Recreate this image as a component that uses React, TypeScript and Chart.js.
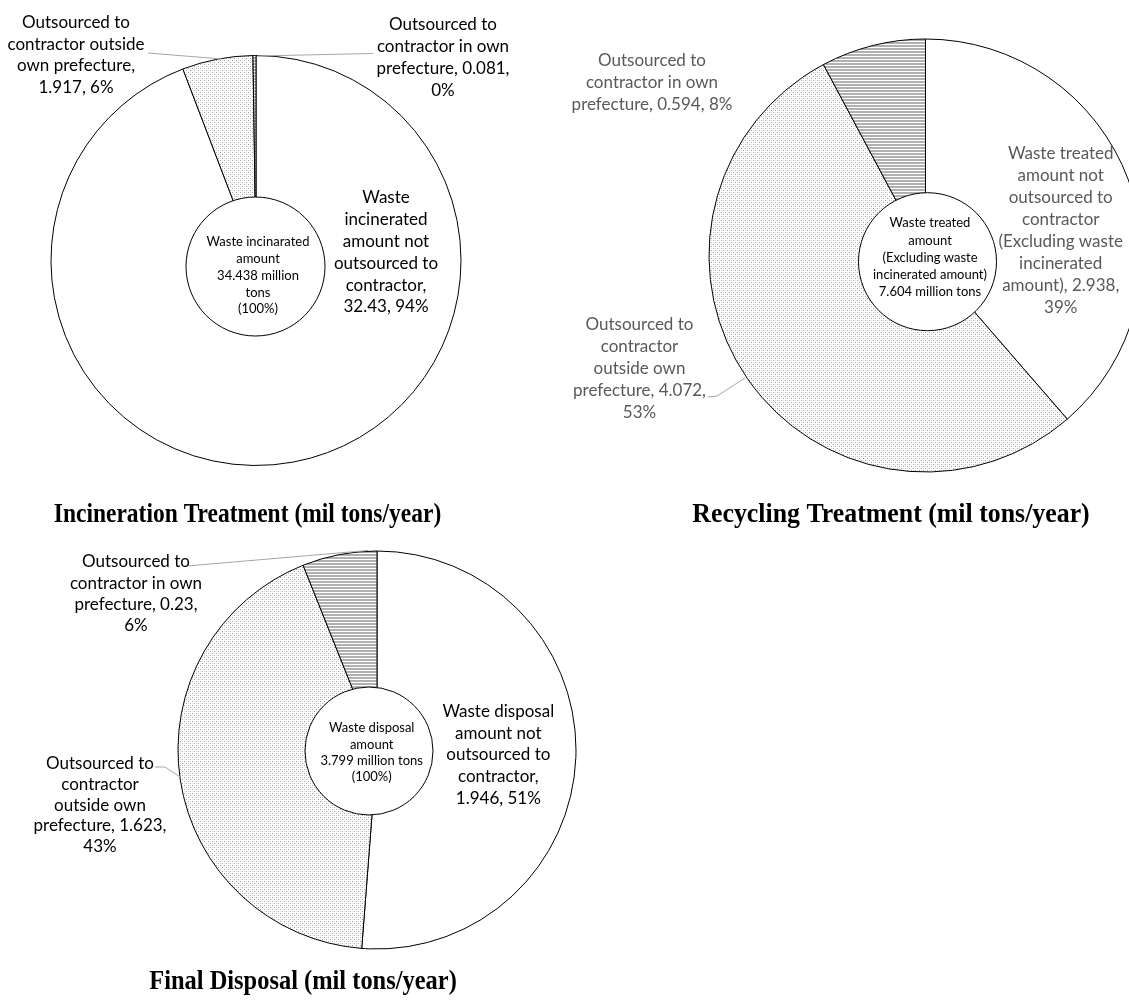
import React, { useEffect, useRef } from "react";
import { Chart, registerables } from "chart.js";
Chart.register(...registerables);

// ---------- DATA ----------
const categories = [
  "Not outsourced to contractor",
  "Outsourced to contractor outside own prefecture",
  "Outsourced to contractor in own prefecture",
];
const incinerationValues = [32.43, 1.917, 0.081];
const incinerationPercents = [94, 6, 0];
const recyclingValues = [2.938, 4.072, 0.594];
const recyclingPercents = [39, 53, 8];
const disposalValues = [1.946, 1.623, 0.23];
const disposalPercents = [51, 43, 6];

const incinerationLabels = [
  ["Waste", "incinerated", "amount not", "outsourced to", "contractor,", "{v}, {p}%"],
  ["Outsourced to", "contractor outside", "own prefecture,", "{v}, {p}%"],
  ["Outsourced to", "contractor in own", "prefecture, {v},", "{p}%"],
];
const incinerationCenter = ["Waste incinarated", "amount", "34.438 million", "tons", "(100%)"];
const incinerationTitle = "Incineration Treatment (mil tons/year)";

const recyclingLabels = [
  ["Waste treated", "amount not", "outsourced to", "contractor", "(Excluding waste", "incinerated", "amount), {v},", "{p}%"],
  ["Outsourced to", "contractor", "outside own", "prefecture, {v},", "{p}%"],
  ["Outsourced to", "contractor in own", "prefecture, {v}, {p}%"],
];
const recyclingCenter = ["Waste treated", "amount", "(Excluding waste", "incinerated amount)", "7.604 million tons"];
const recyclingTitle = "Recycling Treatment (mil tons/year)";

const disposalLabels = [
  ["Waste disposal", "amount not", "outsourced to", "contractor,", "{v}, {p}%"],
  ["Outsourced to", "contractor", "outside own", "prefecture, {v},", "{p}%"],
  ["Outsourced to", "contractor in own", "prefecture, {v},", "{p}%"],
];
const disposalCenter = ["Waste disposal", "amount", "3.799 million tons", "(100%)"];
const disposalTitle = "Final Disposal (mil tons/year)";

// ---------- LAYOUT (page coordinates) ----------
type Pt = [number, number];
interface Layout {
  canvas: { x: number; y: number; w: number; h: number };
  pie: { cx: number; cy: number; r: number };
  circle: { cx: number; cy: number; r: number };
  labels: { x: number; y: number; lh: number }[];
  center: { x: number; y: number; lh: number };
  leaders: (Pt[] | null)[];
  title: { x: number; y: number; sx: number };
  labelColor: string;
}

const layout1: Layout = {
  canvas: { x: 0, y: 0, w: 565, h: 545 },
  pie: { cx: 256, cy: 260.5, r: 205 },
  circle: { cx: 255.5, cy: 266.5, r: 69.5 },
  labels: [
    { x: 386, y: 197.5, lh: 21.9 },
    { x: 76, y: 22.7, lh: 21.5 },
    { x: 443, y: 25, lh: 22 },
  ],
  center: { x: 258, y: 241.7, lh: 16.9 },
  leaders: [null, [[148, 53], [222, 59]], [[257, 56], [373, 53.5]]],
  title: { x: 247.5, y: 515, sx: 1.0 },
  labelColor: "#000000",
};

const layout2: Layout = {
  canvas: { x: 565, y: 0, w: 600, h: 545 },
  pie: { cx: 925.5, cy: 255.5, r: 216.5 },
  circle: { cx: 927.5, cy: 261.7, r: 69 },
  labels: [
    { x: 1060.7, y: 154, lh: 21.9 },
    { x: 639.5, y: 325, lh: 21.9 },
    { x: 652, y: 61, lh: 21.7 },
  ],
  center: { x: 930, y: 223.3, lh: 17.1 },
  leaders: [null, [[708, 397], [717, 396], [745, 378]], null],
  title: { x: 891, y: 515, sx: 1.1 },
  labelColor: "#595959",
};

const layout3: Layout = {
  canvas: { x: 0, y: 545, w: 620, h: 458 },
  pie: { cx: 377, cy: 750, r: 199 },
  circle: { cx: 369, cy: 751, r: 64 },
  labels: [
    { x: 498.3, y: 711.7, lh: 21.6 },
    { x: 100, y: 763.3, lh: 20.9 },
    { x: 136, y: 561.7, lh: 21.4 },
  ],
  center: { x: 371.7, y: 728.3, lh: 16.1 },
  leaders: [null, [[155, 767], [165, 767], [180, 777]], [[187, 566], [350, 552], [368, 550.5]]],
  title: { x: 303, y: 982, sx: 1.04 },
  labelColor: "#000000",
};

const LABEL_FONT = "17px Lato";
const CENTER_FONT = "13px Lato";
const TITLE_FONT = "bold 23.5px 'Liberation Serif'";
const TITLE_SCALE_Y = 1.18;

function makeStipple(ctx: CanvasRenderingContext2D) {
  const c = document.createElement("canvas");
  c.width = 4;
  c.height = 4;
  const g = c.getContext("2d")!;
  g.fillStyle = "#ffffff";
  g.fillRect(0, 0, 4, 4);
  g.fillStyle = "#a4a4a4";
  g.fillRect(0, 0, 1, 1);
  g.fillRect(2, 2, 1, 1);
  g.fillStyle = "#e4e4e4";
  g.fillRect(2, 0, 1, 1);
  g.fillRect(0, 2, 1, 1);
  return ctx.createPattern(c, "repeat")!;
}

function makeStripes(ctx: CanvasRenderingContext2D) {
  const c = document.createElement("canvas");
  c.width = 4;
  c.height = 3;
  const g = c.getContext("2d")!;
  g.fillStyle = "#ffffff";
  g.fillRect(0, 0, 4, 3);
  g.fillStyle = "#b0b0b0";
  g.fillRect(0, 0, 4, 2);
  return ctx.createPattern(c, "repeat")!;
}

function fill(t: string, v: number, p: number) {
  return t.replace("{v}", String(v)).replace("{p}", String(p));
}

function PieChart(props: {
  values: number[];
  percents: number[];
  labels: string[][];
  center: string[];
  title: string;
  lay: Layout;
}) {
  const ref = useRef<HTMLCanvasElement | null>(null);
  const { values, percents, labels, center, title, lay } = props;
  useEffect(() => {
    const canvas = ref.current!;
    const ctx = canvas.getContext("2d")!;
    const ox = lay.canvas.x;
    const oy = lay.canvas.y;
    const side = lay.pie.r * 2 + 1;
    const padLeft = lay.pie.cx - lay.pie.r - 0.5 - ox;
    const padTop = lay.pie.cy - lay.pie.r - 0.5 - oy;
    const padding = {
      left: padLeft,
      top: padTop,
      right: lay.canvas.w - padLeft - side,
      bottom: lay.canvas.h - padTop - side,
    };
    const overlay = {
      id: "overlay" + title.length,
      afterDatasetsDraw(chart: any) {
        const c: CanvasRenderingContext2D = chart.ctx;
        c.save();
        // leader lines
        c.strokeStyle = "#a6a6a6";
        c.lineWidth = 1;
        lay.leaders.forEach((pts) => {
          if (!pts) return;
          c.beginPath();
          pts.forEach((p, i) => {
            if (i === 0) c.moveTo(p[0] - ox, p[1] - oy);
            else c.lineTo(p[0] - ox, p[1] - oy);
          });
          c.stroke();
        });
        // center circle
        c.beginPath();
        c.arc(lay.circle.cx - ox, lay.circle.cy - oy, lay.circle.r, 0, Math.PI * 2);
        c.fillStyle = "#ffffff";
        c.fill();
        c.strokeStyle = "#000000";
        c.lineWidth = 1;
        c.stroke();
        c.textAlign = "center";
        c.textBaseline = "middle";
        c.fillStyle = "#000000";
        c.font = CENTER_FONT;
        center.forEach((line, i) => {
          c.fillText(line, lay.center.x - ox, lay.center.y - oy + i * lay.center.lh);
        });
        // data labels
        c.font = LABEL_FONT;
        c.fillStyle = lay.labelColor;
        labels.forEach((lines, k) => {
          const L = lay.labels[k];
          lines.forEach((t, i) => {
            c.fillText(fill(t, values[k], percents[k]), L.x - ox, L.y - oy + i * L.lh);
          });
        });
        // title
        c.font = TITLE_FONT;
        c.fillStyle = "#000000";
        c.save();
        c.translate(lay.title.x - ox, lay.title.y - oy);
        c.scale(lay.title.sx, TITLE_SCALE_Y);
        c.fillText(title, 0, 0);
        c.restore();
        c.restore();
      },
    };
    const chart = new Chart(canvas, {
      type: "pie",
      data: {
        labels: categories,
        datasets: [
          {
            data: values,
            backgroundColor: ["#ffffff", makeStipple(ctx), makeStripes(ctx)] as any,
            borderColor: "#000000",
            borderWidth: 1,
          },
        ],
      },
      options: {
        responsive: false,
        animation: false,
        events: [],
        layout: { padding },
        plugins: { legend: { display: false }, tooltip: { enabled: false } },
      },
      plugins: [overlay],
    });
    return () => chart.destroy();
  }, []);
  return (
    <canvas
      ref={ref}
      width={lay.canvas.w}
      height={lay.canvas.h}
      style={{
        position: "absolute",
        left: lay.canvas.x,
        top: lay.canvas.y,
        width: lay.canvas.w,
        height: lay.canvas.h,
      }}
    />
  );
}

export default function App() {
  return (
    <div
      style={{
        position: "absolute",
        left: 0,
        top: 0,
        width: 1129,
        height: 1003,
        overflow: "hidden",
        background: "#ffffff",
      }}
    >
      <PieChart
        values={incinerationValues}
        percents={incinerationPercents}
        labels={incinerationLabels}
        center={incinerationCenter}
        title={incinerationTitle}
        lay={layout1}
      />
      <PieChart
        values={recyclingValues}
        percents={recyclingPercents}
        labels={recyclingLabels}
        center={recyclingCenter}
        title={recyclingTitle}
        lay={layout2}
      />
      <PieChart
        values={disposalValues}
        percents={disposalPercents}
        labels={disposalLabels}
        center={disposalCenter}
        title={disposalTitle}
        lay={layout3}
      />
    </div>
  );
}
